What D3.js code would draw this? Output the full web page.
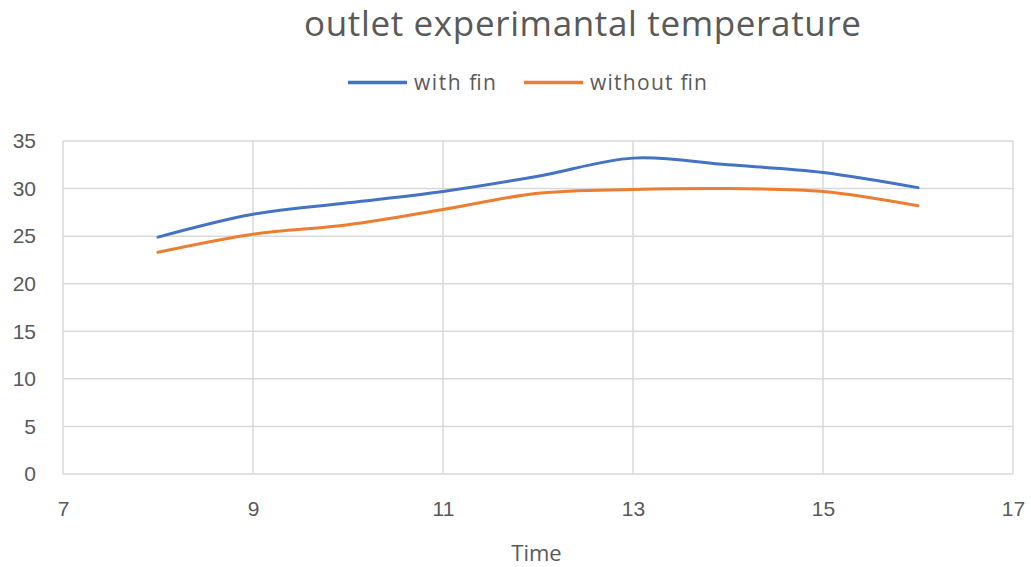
<!DOCTYPE html>
<html>
<head>
<meta charset="utf-8">
<script src="https://cdn.jsdelivr.net/npm/d3@7"></script>
<style>
  html, body { margin: 0; padding: 0; background: #fff; }
  svg { display: block; font-family: "Open Sans", "Liberation Sans", sans-serif; }
</style>
</head>
<body>
<svg id="chart" width="1031" height="567"></svg>
<script>
// Outlet temperature readings by hour of day
const times = [8, 9, 10, 11, 12, 13, 14, 15, 16];
const withFin = [24.9, 27.3, 28.5, 29.7, 31.3, 33.2, 32.5, 31.7, 30.1];
const withoutFin = [23.3, 25.2, 26.2, 27.8, 29.5, 29.9, 30.0, 29.7, 28.2];
const xTicks = [7, 9, 11, 13, 15, 17];
const yTicks = [0, 5, 10, 15, 20, 25, 30, 35];
const seriesNames = ["with fin", "without fin"];
const seriesColors = ["#4472C4", "#ED7D31"];

const svg = d3.select("#chart");
const margin = { left: 63, right: 18, top: 141, bottom: 93 };
const W = 1031, H = 567;

const x = d3.scaleLinear().domain([7, 17]).range([margin.left, W - margin.right]);
const y = d3.scaleLinear().domain([0, 35]).range([H - margin.bottom, margin.top]);

const textColor = "#595959";
const gridColor = "#d9d9d9";

// Gridlines
svg.append("g")
  .selectAll("line")
  .data(yTicks)
  .join("line")
  .attr("x1", x(7)).attr("x2", x(17))
  .attr("y1", d => y(d)).attr("y2", d => y(d))
  .attr("stroke", gridColor).attr("stroke-width", 1.5);

svg.append("g")
  .selectAll("line")
  .data(xTicks)
  .join("line")
  .attr("x1", d => x(d)).attr("x2", d => x(d))
  .attr("y1", y(0)).attr("y2", y(35))
  .attr("stroke", gridColor).attr("stroke-width", 1.5);

// Axis labels
const xAxis = svg.append("g")
  .attr("transform", `translate(0,${y(0)})`)
  .call(d3.axisBottom(x).tickValues(xTicks).tickSize(0));
xAxis.select(".domain").remove();
xAxis.selectAll("text")
  .attr("y", 42).attr("dy", null)
  .attr("fill", textColor)
  .style("font-size", "21px");

const yAxis = svg.append("g")
  .attr("transform", `translate(${margin.left},0)`)
  .call(d3.axisLeft(y).tickValues(yTicks).tickSize(0).tickPadding(27));
yAxis.select(".domain").remove();
yAxis.selectAll("text").attr("fill", textColor).style("font-size", "21px");

// Series lines
const line = d3.line()
  .x(d => x(d[0]))
  .y(d => y(d[1]))
  .curve(d3.curveCatmullRom.alpha(0));

[withFin, withoutFin].forEach((vals, i) => {
  svg.append("path")
    .datum(times.map((t, j) => [t, vals[j]]))
    .attr("fill", "none")
    .attr("stroke", seriesColors[i])
    .attr("stroke-width", 3)
    .attr("stroke-linecap", "round")
    .attr("d", line);
});

// Title
svg.append("text")
  .attr("x", 304).attr("y", 36)
  .attr("textLength", 557)
  .attr("lengthAdjust", "spacing")
  .attr("fill", textColor)
  .style("font-size", "35px")
  .text("outlet experimantal temperature");

// Legend
const legendX = [348, 524];
const legendLen = [82, 117];
seriesNames.forEach((name, i) => {
  const g = svg.append("g").attr("transform", `translate(${legendX[i]},82.5)`);
  g.append("line")
    .attr("x1", 0).attr("x2", 59)
    .attr("stroke", seriesColors[i]).attr("stroke-width", 3.5);
  g.append("text")
    .attr("x", 66).attr("y", 7.5)
    .attr("textLength", legendLen[i])
    .attr("lengthAdjust", "spacing")
    .attr("fill", textColor)
    .style("font-size", "21px")
    .text(name);
});

// Axis title
svg.append("text")
  .attr("x", 536.5).attr("y", 561)
  .attr("text-anchor", "middle")
  .attr("fill", textColor)
  .style("font-size", "22px")
  .text("Time");
</script>
</body>
</html>
